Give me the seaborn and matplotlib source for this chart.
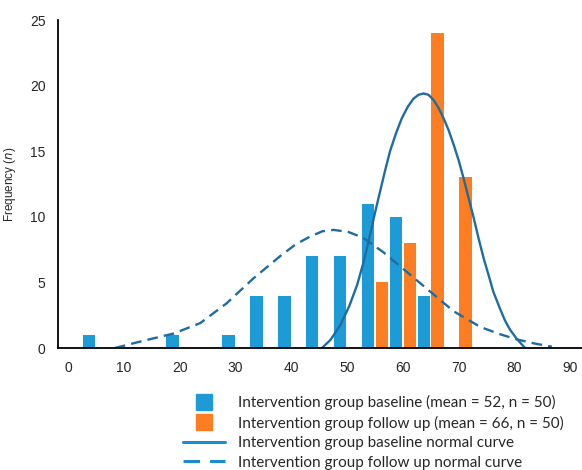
import pandas as pd
import matplotlib.pyplot as plt
import seaborn as sns
from matplotlib.lines import Line2D

# Histogram counts (bins 5 wide, centred on multiples of 5)
baseline_bins = [5, 20, 30, 35, 40, 45, 50, 55, 60, 65]
baseline_counts = [1, 1, 1, 4, 4, 7, 7, 11, 10, 4]
followup_bins = [55, 60, 65, 70]
followup_counts = [5, 8, 24, 13]

# Normal curves, points
solid_x = [45.5, 47.0, 48.8, 50.4, 51.8, 53.0, 54.1, 55.0, 55.9, 56.8, 57.7,
           58.8, 59.8, 60.9, 61.9, 62.8, 63.7, 64.6, 65.5, 66.4, 67.3, 68.2,
           69.1, 70.0, 70.9, 71.8, 72.7, 73.6, 74.5, 75.4, 76.2, 77.4, 78.3,
           79.2, 80.4, 81.9]
solid_y = [0.0, 0.6, 1.75, 3.2, 4.8, 6.6, 8.6, 10.3, 11.9, 13.5, 15.0,
           16.4, 17.5, 18.4, 19.0, 19.3, 19.4, 19.3, 18.9, 18.3, 17.5, 16.6,
           15.5, 14.3, 12.9, 11.4, 9.9, 8.3, 6.8, 5.5, 4.3, 3.0, 2.1,
           1.4, 0.7, 0.0]
dashed_x = [8.4, 13.5, 18.9, 23.7, 28.4, 33.2, 38.0, 40.8, 43.4, 45.6, 47.6,
            50.2, 52.9, 56.5, 60.7, 64.9, 69.1, 73.9, 77.4, 80.4, 83.5, 86.7]
dashed_y = [0.0, 0.55, 1.1, 1.9, 3.4, 5.3, 7.0, 7.9, 8.5, 8.9, 9.0,
            8.85, 8.4, 7.3, 5.8, 4.3, 2.8, 1.6, 1.05, 0.66, 0.35, 0.1]

x_ticks = [0, 10, 20, 30, 40, 50, 60, 70, 80, 90]
bin_edges = [2.5 + 5 * k for k in range(18)]
y_ticks = [0, 5, 10, 15, 20, 25]

legend_labels = [
    "Intervention group baseline (mean = 52, n = 50)",
    "Intervention group follow up (mean = 66, n = 50)",
    "Intervention group baseline normal curve",
    "Intervention group follow up normal curve",
]

blue = "#1d9bd7"
orange = "#fd7e22"
curve_blue = "#1f6c9f"
legend_blue = "#1c8cd0"

sns.set_style("white")
plt.rcParams["font.family"] = ["Liberation Sans", "DejaVu Sans"]

df = pd.DataFrame({
    "score": baseline_bins + followup_bins,
    "count": baseline_counts + followup_counts,
    "group": ["baseline"] * len(baseline_bins) + ["followup"] * len(followup_bins),
})

fig = plt.figure(figsize=(5.82, 4.70), dpi=100)
ax = fig.add_axes([58 / 582, 1 - 348 / 470, 1 - 58 / 582, 328 / 470])

sns.barplot(data=df, x="score", y="count", hue="group", hue_order=["baseline", "followup"],
            native_scale=True, dodge=True, width=1.0, gap=0.1,
            palette=[blue, orange], saturation=1, linewidth=0, legend=False, ax=ax)

sns.lineplot(x=solid_x, y=solid_y, color=curve_blue, lw=1.7, ax=ax)
sns.lineplot(x=dashed_x, y=dashed_y, color=curve_blue, lw=1.7,
             linestyle=(0, (4.5, 2.6)), ax=ax)

ax.set_xlim(-1.8, 92.1)
ax.set_ylim(0, 25)
ax.set_xticks(x_ticks)
ax.set_xticks(bin_edges, minor=True)
ax.set_yticks(y_ticks)
ax.tick_params(axis="x", which="major", length=0, pad=9, labelsize=10)
ax.tick_params(axis="x", which="minor", direction="in", length=3.5, width=1.2, color="black")
ax.tick_params(axis="y", direction="in", length=3.5, width=1.2, pad=9, labelsize=10, color="black")
for lab in ax.get_xticklabels() + ax.get_yticklabels():
    lab.set_family(["Liberation Sans", "DejaVu Sans"])
ax.set_xlabel("")
ax.set_ylabel("Frequency ($\\mathit{n}$)", fontsize=8.5)
ax.yaxis.set_label_coords(-0.076, 0.5)

for side in ["top", "right"]:
    ax.spines[side].set_visible(False)
for side in ["left", "bottom"]:
    ax.spines[side].set_color("black")
    ax.spines[side].set_linewidth(1.3)

handles = [
    Line2D([], [], marker="s", ls="none", markersize=11, color=blue),
    Line2D([], [], marker="s", ls="none", markersize=11, color=orange),
    Line2D([], [], color=legend_blue, lw=2.2),
    Line2D([], [], color=legend_blue, lw=2.2, linestyle=(0, (5.4, 3.3))),
]
fig.legend(handles, legend_labels, loc="upper left", bbox_to_anchor=(183 / 582, 1 - 395 / 470),
           frameon=False, borderpad=0, borderaxespad=0, handlelength=2.75, handletextpad=0.82,
           labelspacing=0.36, prop={"family": "Lato", "size": 11})

fig.savefig("out.png", dpi=100)
